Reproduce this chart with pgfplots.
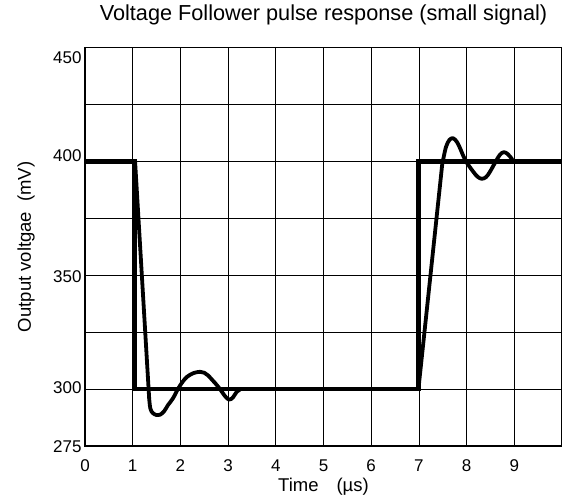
\documentclass[border=0pt]{standalone}
\usepackage{fontspec}
\setmainfont{Liberation Sans}
\usepackage{pgfplots}
\pgfplotsset{compat=1.18}
\begin{document}
\begin{tikzpicture}
\begin{axis}[
  scale only axis, width=477pt, height=398.3pt,
  xmin=0, xmax=10, ymin=275, ymax=450,
  xtick={0,1,2,3,4,5,6,7,8,9},
  xticklabels={0,1,2,3,4,5,6,7,8,9},
  ytick={275,300,325,350,375,400,425,450},
  yticklabels={275,\raisebox{1.6pt}{300},{},\raisebox{-1pt}{350},{},\raisebox{5.8pt}{400},{},\raisebox{-10.1pt}{450}},
  grid=major,
  major grid style={black, line width=0.8pt},
  major tick length=0pt,
  axis line style={black, line width=1.1pt},
  ticklabel style={font=\fontsize{17}{20}\selectfont},
  xticklabel style={anchor=base, yshift=-25.7pt},
  yticklabel style={anchor=base east, yshift=-6.1pt},
  title={Voltage Follower pulse response (small signal)},
  title style={font=\fontsize{21.7}{24}\selectfont, at={(axis description cs:0.5,1.0527)}, anchor=base},
  xlabel={Time\hspace{18pt}(µs)},
  xlabel style={font=\fontsize{18.5}{21}\selectfont, at={(axis description cs:0.5,-0.1147)}, anchor=base},
  ylabel={Output voltgae\hspace{10pt}(mV)},
  ylabel style={font=\fontsize{18.5}{21}\selectfont, at={(axis description cs:-0.1237,0.5)}, anchor=center},
  every axis plot/.append style={black, line join=round, line cap=round},
]
% input pulse
\addplot[line width=4.5pt, line cap=butt, line join=miter] coordinates {(0,400) (1.04,400) (1.04,300) (6.99,300) (6.99,400) (10,400)};
% output response
\addplot[line width=3.8pt] coordinates {(0,400) (1.05,400) (1.345,296)};
\addplot[line width=3.8pt, smooth, tension=0.6] coordinates {
 (1.345,296) (1.37,291.5) (1.42,289.5) (1.5,288.6) (1.57,288.7) (1.66,290.3)
 (1.74,293) (1.84,295.8) (1.95,300.1) (2.05,303.3) (2.14,305.4) (2.27,307)
 (2.41,307.6) (2.5,307.2) (2.58,306) (2.66,304.2) (2.73,302.6) (2.83,300)
 (2.94,296.8) (3.02,295.4) (3.10,296.3) (3.18,298.8) (3.26,300) (3.4,300)};
\addplot[line width=3.8pt] coordinates {(3.4,300) (6.99,300) (7.49,399)};
\addplot[line width=3.8pt, smooth, tension=0.6] coordinates {
 (7.49,399) (7.52,402) (7.57,406.5) (7.64,409.5) (7.72,410.2) (7.80,408.5)
 (7.87,405.5) (7.94,402) (8.01,399.3) (8.14,395.5) (8.23,393.3) (8.32,392.4)
 (8.41,393.2) (8.49,395.5) (8.57,398.5) (8.63,400.7) (8.70,403) (8.78,404.1)
 (8.86,403.3) (8.94,401.4) (9.0,400) (9.2,400)};
\addplot[line width=3.8pt] coordinates {(9.2,400) (10,400)};
\coordinate (bl) at (rel axis cs:0,0);
\coordinate (tr) at (rel axis cs:1,1);
\end{axis}
\pgfresetboundingbox
\path ([xshift=-85pt,yshift=-52pt]bl) rectangle ([yshift=47.7pt]tr);
\end{tikzpicture}
\end{document}
